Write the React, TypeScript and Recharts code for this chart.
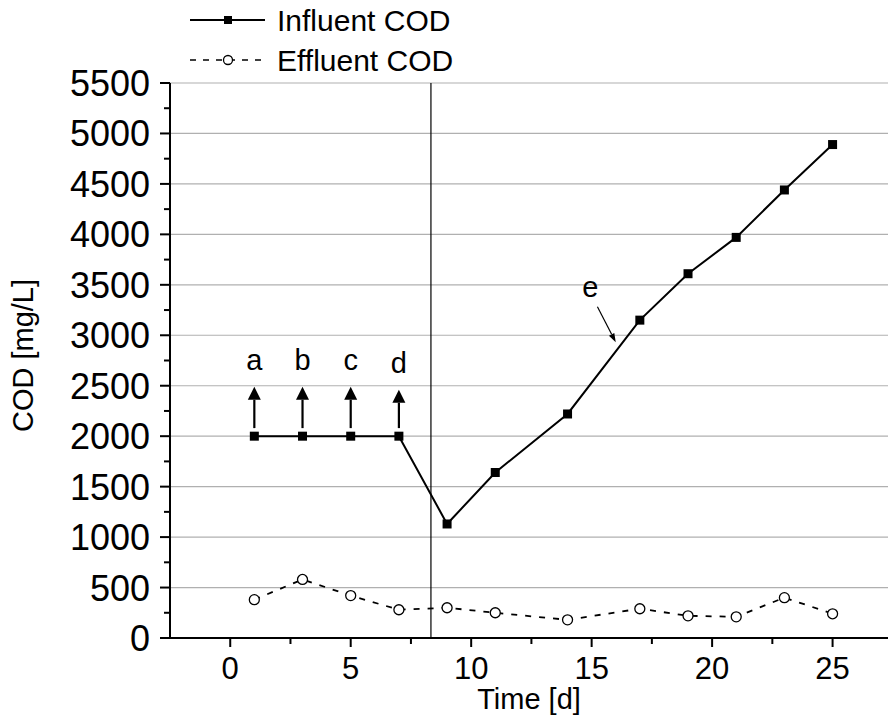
import {
  ComposedChart,
  Line,
  XAxis,
  YAxis,
  CartesianGrid,
  Legend,
  ReferenceLine,
  ReferenceDot,
} from "recharts";

// ─── Data ────────────────────────────────────────────────────────────────────
const influentDays = [1, 3, 5, 7, 9, 11, 14, 17, 19, 21, 23, 25];
const influentCOD = [2000, 2000, 2000, 2000, 1130, 1640, 2220, 3150, 3610, 3970, 4440, 4890];

const effluentDays = [1, 3, 5, 7, 9, 11, 14, 17, 19, 21, 23, 25];
const effluentCOD = [380, 580, 420, 280, 300, 250, 180, 290, 220, 210, 400, 240];

const xTicks = [0, 2.5, 5, 7.5, 10, 12.5, 15, 17.5, 20, 22.5, 25];
const yTicks = [
  0, 250, 500, 750, 1000, 1250, 1500, 1750, 2000, 2250, 2500, 2750, 3000, 3250,
  3500, 3750, 4000, 4250, 4500, 4750, 5000, 5250, 5500,
];
const yGrid = [0, 500, 1000, 1500, 2000, 2500, 3000, 3500, 4000, 4500, 5000, 5500];

// phase divider
const dividerDay = 8.33;

// stepwise arrows a–d
const stepLabels = ["a", "b", "c", "d"];
const stepDays = [1, 3, 5, 7];
const stepBase = [2080, 2080, 2080, 2080];
const stepTip = [2490, 2490, 2490, 2460];
const stepLabelY = [2656, 2656, 2656, 2626];

// arrow e
const eLabel = { x: 14.94, y: 3384 };
const eFrom = { x: 15.24, y: 3283 };
const eTo = { x: 16.0, y: 2930 };

const data = influentDays.map((d, i) => ({
  day: d,
  influent: influentCOD[i],
  effluent: effluentCOD[effluentDays.indexOf(d)],
}));

const FONT = "Arial, 'Liberation Sans', Helvetica, sans-serif";

// ─── Ticks (major + minor) ───────────────────────────────────────────────────
const Y_TICK = 10;
const Y_MARGIN = 10;
const X_TICK = 9;
const X_MARGIN = 10;

const YTick = (props: any) => {
  const { x, y, payload } = props;
  const v = payload.value;
  const major = v % 500 === 0;
  const ax = x + Y_TICK + Y_MARGIN;
  return (
    <g>
      <line x1={ax} x2={ax - (major ? Y_TICK : 6)} y1={y} y2={y} stroke="#000" strokeWidth={2} />
      {major && (
        <text x={x} y={y} dy="0.36em" textAnchor="end" fontSize={36} fontFamily={FONT} fill="#000">
          {v}
        </text>
      )}
    </g>
  );
};

const XTick = (props: any) => {
  const { x, y, payload } = props;
  const v = payload.value;
  const major = v % 5 === 0;
  const ay = y - X_TICK - X_MARGIN;
  return (
    <g>
      <line x1={x} x2={x} y1={ay} y2={ay + (major ? X_TICK : 6)} stroke="#000" strokeWidth={2} />
      {major && (
        <text x={x} y={y} dy="0.72em" textAnchor="middle" fontSize={31} fontFamily={FONT} fill="#000">
          {v}
        </text>
      )}
    </g>
  );
};

// ─── Annotation shapes ───────────────────────────────────────────────────────
const arrowShape = (headLen: number, headW: number, sw: number) => (props: any) => {
  const { x1, y1, x2, y2 } = props;
  const dx = x2 - x1;
  const dy = y2 - y1;
  const len = Math.sqrt(dx * dx + dy * dy) || 1;
  const ux = dx / len;
  const uy = dy / len;
  const bx = x2 - ux * headLen;
  const by = y2 - uy * headLen;
  const px = -uy * (headW / 2);
  const py = ux * (headW / 2);
  return (
    <g>
      <line x1={x1} y1={y1} x2={bx} y2={by} stroke="#000" strokeWidth={sw} />
      <polygon points={`${x2},${y2} ${bx + px},${by + py} ${bx - px},${by - py}`} fill="#000" />
    </g>
  );
};

const letterShape = (text: string) => (props: any) => (
  <text x={props.cx} y={props.cy} textAnchor="middle" fontSize={29} fontFamily={FONT} fill="#000">
    {text}
  </text>
);

const SquareDot = (props: any) => {
  const { cx, cy } = props;
  if (cx == null || cy == null) return null;
  return <rect x={cx - 4.5} y={cy - 4.5} width={9} height={9} fill="#000" />;
};

const CircleDot = (props: any) => {
  const { cx, cy } = props;
  if (cx == null || cy == null) return null;
  return <circle cx={cx} cy={cy} r={5} fill="#fff" stroke="#000" strokeWidth={1.3} />;
};

// ─── Legend ──────────────────────────────────────────────────────────────────
const LegendContent = () => (
  <svg width={470} height={80} style={{ display: "block" }}>
    <line x1={190} x2={265} y1={20} y2={20} stroke="#000" strokeWidth={2} />
    <rect x={224} y={16} width={8} height={8} fill="#000" />
    <text x={277} y={20} dy="0.36em" fontSize={30} fontFamily={FONT} fill="#000">
      Influent COD
    </text>
    <line x1={190} x2={265} y1={60} y2={60} stroke="#000" strokeWidth={1.6} strokeDasharray="6 7" />
    <circle cx={228} cy={60} r={4.5} fill="#fff" stroke="#000" strokeWidth={1.3} />
    <text x={277} y={60} dy="0.36em" fontSize={30} fontFamily={FONT} fill="#000">
      Effluent COD
    </text>
  </svg>
);

export default function App() {
  return (
    <div style={{ position: "absolute", left: 0, top: 0, width: 888, height: 720, background: "#fff" }}>
      <ComposedChart width={888} height={720} data={data} margin={{ top: 83, right: 0, left: 0, bottom: 0 }}>
        <CartesianGrid horizontal vertical={false} horizontalValues={yGrid} stroke="#b0b0b0" strokeWidth={1.2} />
        <XAxis
          dataKey="day"
          type="number"
          domain={[-2.5, 27.3]}
          allowDataOverflow
          ticks={xTicks}
          interval={0}
          height={82}
          tickSize={X_TICK}
          tickMargin={X_MARGIN}
          tickLine={false}
          tick={<XTick />}
          axisLine={{ stroke: "#000", strokeWidth: 2 }}
          label={{
            content: (p: any) => {
              const vb = p.viewBox;
              return (
                <text x={vb.x + vb.width / 2} y={vb.y + 71} textAnchor="middle" fontSize={29} fontFamily={FONT} fill="#000">
                  Time [d]
                </text>
              );
            },
          }}
        />
        <YAxis
          type="number"
          domain={[0, 5500]}
          allowDataOverflow
          ticks={yTicks}
          interval={0}
          width={170}
          tickSize={Y_TICK}
          tickMargin={Y_MARGIN}
          tickLine={false}
          tick={<YTick />}
          axisLine={{ stroke: "#000", strokeWidth: 2 }}
          label={{
            content: (p: any) => {
              const vb = p.viewBox;
              const cx = vb.x + 33;
              const cy = vb.y + vb.height / 2 - 5;
              return (
                <text
                  x={cx}
                  y={cy}
                  transform={`rotate(-90 ${cx} ${cy})`}
                  textAnchor="middle"
                  fontSize={29}
                  fontFamily={FONT}
                  fill="#000"
                >
                  COD [mg/L]
                </text>
              );
            },
          }}
        />
        <Legend
          layout="vertical"
          align="center"
          verticalAlign="middle"
          wrapperStyle={{ top: 0, left: 0, width: 470 }}
          content={<LegendContent />}
        />

        <ReferenceLine x={dividerDay} stroke="#000" strokeWidth={1.2} />

        {stepDays.map((d, i) => (
          <ReferenceLine
            key={`arr-${i}`}
            segment={[
              { x: d, y: stepBase[i] },
              { x: d, y: stepTip[i] },
            ]}
            shape={arrowShape(13, 13, 2.2)}
          />
        ))}
        {stepDays.map((d, i) => (
          <ReferenceDot key={`lab-${i}`} x={d} y={stepLabelY[i]} r={1} shape={letterShape(stepLabels[i])} />
        ))}

        <ReferenceLine
          segment={[
            { x: eFrom.x, y: eFrom.y },
            { x: eTo.x, y: eTo.y },
          ]}
          shape={arrowShape(9, 6, 1.2)}
        />
        <ReferenceDot x={eLabel.x} y={eLabel.y} r={1} shape={letterShape("e")} />

        <Line
          dataKey="effluent"
          type="linear"
          stroke="#000"
          strokeWidth={1.8}
          strokeDasharray="6 8"
          dot={<CircleDot />}
          activeDot={false}
          isAnimationActive={false}
          name="Effluent COD"
        />
        <Line
          dataKey="influent"
          type="linear"
          stroke="#000"
          strokeWidth={2}
          dot={<SquareDot />}
          activeDot={false}
          isAnimationActive={false}
          name="Influent COD"
        />
      </ComposedChart>
    </div>
  );
}
